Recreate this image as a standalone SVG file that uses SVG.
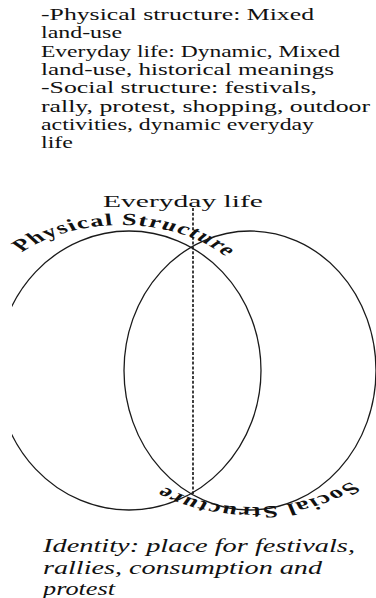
<svg xmlns="http://www.w3.org/2000/svg" width="376" height="598" viewBox="0 0 376 598">
<defs>
<clipPath id="clipL"><rect x="12" y="0" width="364" height="598"/></clipPath>
<path id="arcPhys" d="M -10 313 A 88 88 0 0 1 166 313"/>
<path id="arcSoc" d="M 253 417 A 90 90 0 0 1 73 417"/>
</defs>
<style>
.ring{fill:none;stroke:#1a1a1a;stroke-width:1.3}
.note{font-family:"Liberation Serif","Times New Roman",serif;font-size:16.5px;fill:#111}
.ital{font-family:"Liberation Serif","Times New Roman",serif;font-style:italic;font-size:19px;fill:#111}
.arc{font-family:"Liberation Serif","Times New Roman",serif;font-weight:bold;font-size:17px;fill:#111}
.dash{stroke:#111;stroke-width:1.6;stroke-dasharray:3 1.8;fill:none}
</style>
<rect width="376" height="598" fill="#fff"/>
<g id="notes" class="note">
<text x="41" y="20" textLength="273" lengthAdjust="spacingAndGlyphs">-Physical structure: Mixed</text>
<text x="41" y="38.3" textLength="81" lengthAdjust="spacingAndGlyphs">land-use</text>
<text x="41" y="56.6" textLength="299" lengthAdjust="spacingAndGlyphs">Everyday life: Dynamic, Mixed</text>
<text x="41" y="74.9" textLength="293" lengthAdjust="spacingAndGlyphs">land-use, historical meanings</text>
<text x="41" y="93.2" textLength="276" lengthAdjust="spacingAndGlyphs">-Social structure: festivals,</text>
<text x="41" y="111.5" textLength="329" lengthAdjust="spacingAndGlyphs">rally, protest, shopping, outdoor</text>
<text x="41" y="129.8" textLength="273" lengthAdjust="spacingAndGlyphs">activities, dynamic everyday</text>
<text x="41" y="148.1" textLength="32" lengthAdjust="spacingAndGlyphs">life</text>
</g>
<g id="connectors">
<line class="dash" x1="193" y1="208" x2="193" y2="494"/>
</g>
<g id="everyday-life">
<text class="note" x="103" y="207" font-size="18.6" textLength="160" lengthAdjust="spacingAndGlyphs">Everyday life</text>
</g>
<g id="physical-structure">
<ellipse class="ring" cx="129" cy="370.5" rx="132" ry="139.5" clip-path="url(#clipL)"/>
<g transform="scale(1.55,1)">
<text class="arc" letter-spacing="0.8"><textPath href="#arcPhys" startOffset="141" text-anchor="middle">Physical Structure</textPath></text>
</g>
</g>
<g id="social-structure">
<ellipse class="ring" cx="250" cy="370.5" rx="126" ry="139.5"/>
<g transform="scale(1.55,1)">
<text class="arc" letter-spacing="0.9"><textPath href="#arcSoc" startOffset="137.3" text-anchor="middle">Social Structure</textPath></text>
</g>
</g>
<g id="identity" class="ital">
<text x="43" y="552" textLength="312" lengthAdjust="spacingAndGlyphs">Identity: place for festivals,</text>
<text x="43" y="574" textLength="279" lengthAdjust="spacingAndGlyphs">rallies, consumption and</text>
<text x="43" y="595" textLength="72" lengthAdjust="spacingAndGlyphs">protest</text>
</g>
</svg>
